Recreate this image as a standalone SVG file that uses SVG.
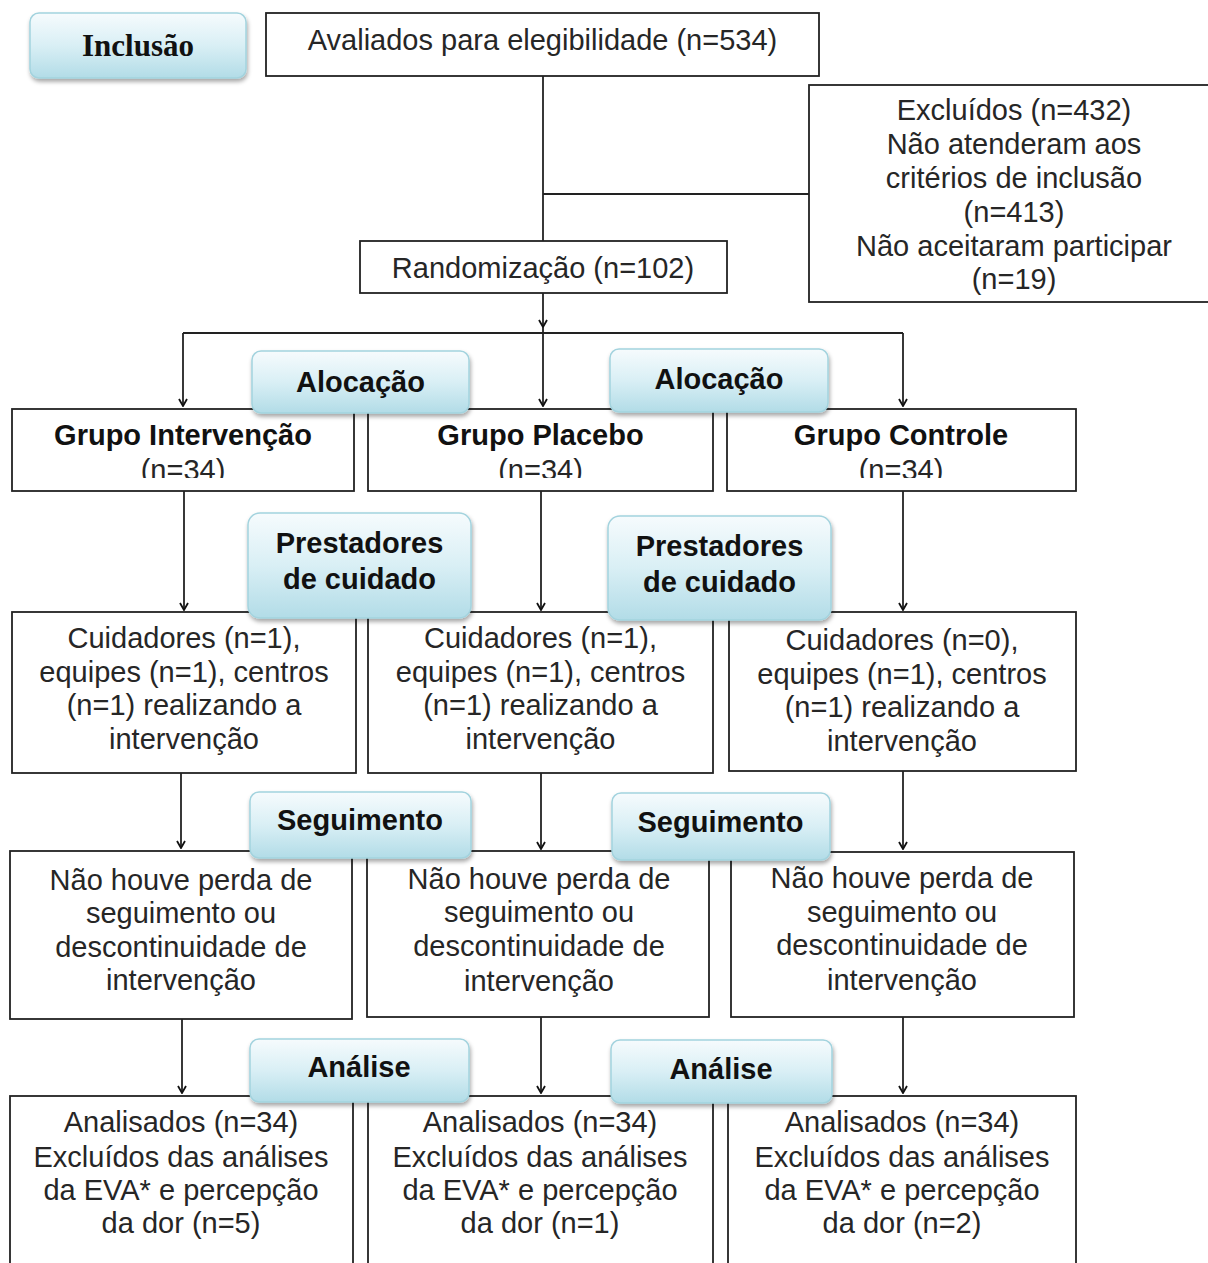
<svg xmlns="http://www.w3.org/2000/svg" width="1208" height="1263" viewBox="0 0 1208 1263">
<defs>
<linearGradient id="lg" x1="0" y1="0" x2="0" y2="1">
<stop offset="0" stop-color="#f6fbfd"/>
<stop offset="0.5" stop-color="#d9eff5"/>
<stop offset="1" stop-color="#b2dce7"/>
</linearGradient>
<filter id="sh" x="-10%" y="-10%" width="120%" height="140%">
<feDropShadow dx="1" dy="3" stdDeviation="2" flood-color="#000" flood-opacity="0.35"/>
</filter>
<marker id="ah" markerUnits="userSpaceOnUse" viewBox="-9 -5 10 10" refX="0" refY="0" markerWidth="10" markerHeight="10" orient="auto">
<path d="M-7,-4 L0,0 L-7,4" fill="none" stroke="#111" stroke-width="1.8"/>
</marker>
<clipPath id="c1"><rect x="12" y="409" width="342" height="69"/></clipPath>
<clipPath id="c2"><rect x="368" y="409" width="345" height="69"/></clipPath>
<clipPath id="c3"><rect x="727" y="409" width="349" height="69"/></clipPath>
</defs>
<style>
.box{fill:#fff;stroke:#222;stroke-width:1.8}
.lab{fill:url(#lg);stroke:#a3d3de;stroke-width:1.5;filter:url(#sh)}
.t{font-family:"Liberation Sans",Arial,sans-serif;font-size:29px;fill:#262626;text-anchor:middle}
.b{font-family:"Liberation Sans",Arial,sans-serif;font-size:29px;font-weight:bold;fill:#111;text-anchor:middle}
.s{font-family:"Liberation Serif","Times New Roman",serif;font-size:31px;font-weight:bold;fill:#111;text-anchor:middle}
.ln{stroke:#222;stroke-width:1.8;fill:none}
.ar{stroke:#222;stroke-width:1.8;fill:none;marker-end:url(#ah)}
</style>
<rect width="1208" height="1263" fill="#fff"/>

<g id="connectors">
<line class="ln" x1="543" y1="76" x2="543" y2="241"/>
<line class="ln" x1="543" y1="194" x2="809" y2="194"/>
<line class="ar" x1="543" y1="293" x2="543" y2="327"/>
<line class="ln" x1="183" y1="333" x2="903" y2="333"/>
<line class="ar" x1="543" y1="327" x2="543" y2="406"/>
<line class="ar" x1="183" y1="333" x2="183" y2="406"/>
<line class="ar" x1="903" y1="333" x2="903" y2="406"/>
<line class="ar" x1="184" y1="491" x2="184" y2="610"/>
<line class="ar" x1="541" y1="491" x2="541" y2="610"/>
<line class="ar" x1="903" y1="491" x2="903" y2="610"/>
<line class="ar" x1="181" y1="773" x2="181" y2="848"/>
<line class="ar" x1="541" y1="773" x2="541" y2="849"/>
<line class="ar" x1="903" y1="771" x2="903" y2="849"/>
<line class="ar" x1="182" y1="1019" x2="182" y2="1093"/>
<line class="ar" x1="541" y1="1017" x2="541" y2="1093"/>
<line class="ar" x1="903" y1="1017" x2="903" y2="1093"/>
</g>

<g id="avaliados">
<rect class="box" x="266" y="13" width="553" height="63"/>
<text class="t" x="542.5" y="50">Avaliados para elegibilidade (n=534)</text>
</g>

<g id="excluidos">
<rect class="box" x="809" y="85" width="410" height="217"/>
<text class="t" x="1014" y="120">Excluídos (n=432)</text>
<text class="t" x="1014" y="154">Não atenderam aos</text>
<text class="t" x="1014" y="188">critérios de inclusão</text>
<text class="t" x="1014" y="222">(n=413)</text>
<text class="t" x="1014" y="256">Não aceitaram participar</text>
<text class="t" x="1014" y="289">(n=19)</text>
</g>

<g id="randomizacao">
<rect class="box" x="360" y="241" width="367" height="52"/>
<text class="t" x="543" y="278">Randomização (n=102)</text>
</g>

<g id="grupo-intervencao">
<rect class="box" x="12" y="409" width="342" height="82"/>
<g clip-path="url(#c1)">
<text class="b" x="183" y="445">Grupo Intervenção</text>
<text class="t" x="183" y="480">(n=34)</text>
</g>
</g>
<g id="grupo-placebo">
<rect class="box" x="368" y="409" width="345" height="82"/>
<g clip-path="url(#c2)">
<text class="b" x="540.5" y="445">Grupo Placebo</text>
<text class="t" x="540.5" y="480">(n=34)</text>
</g>
</g>
<g id="grupo-controle">
<rect class="box" x="727" y="409" width="349" height="82"/>
<g clip-path="url(#c3)">
<text class="b" x="901" y="445">Grupo Controle</text>
<text class="t" x="901" y="480">(n=34)</text>
</g>
</g>

<g id="cuidadores-1">
<rect class="box" x="12" y="612" width="344" height="161"/>
<text class="t" x="184" y="648">Cuidadores (n=1),</text>
<text class="t" x="184" y="682">equipes (n=1), centros</text>
<text class="t" x="184" y="715">(n=1) realizando a</text>
<text class="t" x="184" y="749">intervenção</text>
</g>
<g id="cuidadores-2">
<rect class="box" x="368" y="612" width="345" height="161"/>
<text class="t" x="540.5" y="648">Cuidadores (n=1),</text>
<text class="t" x="540.5" y="682">equipes (n=1), centros</text>
<text class="t" x="540.5" y="715">(n=1) realizando a</text>
<text class="t" x="540.5" y="749">intervenção</text>
</g>
<g id="cuidadores-3">
<rect class="box" x="729" y="612" width="347" height="159"/>
<text class="t" x="902" y="650">Cuidadores (n=0),</text>
<text class="t" x="902" y="684">equipes (n=1), centros</text>
<text class="t" x="902" y="717">(n=1) realizando a</text>
<text class="t" x="902" y="751">intervenção</text>
</g>

<g id="seguimento-1">
<rect class="box" x="10" y="851" width="342" height="168"/>
<text class="t" x="181" y="890">Não houve perda de</text>
<text class="t" x="181" y="923">seguimento ou</text>
<text class="t" x="181" y="957">descontinuidade de</text>
<text class="t" x="181" y="990">intervenção</text>
</g>
<g id="seguimento-2">
<rect class="box" x="367" y="851" width="342" height="166"/>
<text class="t" x="539" y="889">Não houve perda de</text>
<text class="t" x="539" y="922">seguimento ou</text>
<text class="t" x="539" y="956">descontinuidade de</text>
<text class="t" x="539" y="991">intervenção</text>
</g>
<g id="seguimento-3">
<rect class="box" x="731" y="852" width="343" height="165"/>
<text class="t" x="902" y="888">Não houve perda de</text>
<text class="t" x="902" y="922">seguimento ou</text>
<text class="t" x="902" y="955">descontinuidade de</text>
<text class="t" x="902" y="990">intervenção</text>
</g>

<g id="analise-1">
<rect class="box" x="10" y="1096" width="343" height="180"/>
<text class="t" x="181" y="1132">Analisados (n=34)</text>
<text class="t" x="181" y="1167">Excluídos das análises</text>
<text class="t" x="181" y="1200">da EVA* e percepção</text>
<text class="t" x="181" y="1233">da dor (n=5)</text>
</g>
<g id="analise-2">
<rect class="box" x="368" y="1096" width="345" height="180"/>
<text class="t" x="540" y="1132">Analisados (n=34)</text>
<text class="t" x="540" y="1167">Excluídos das análises</text>
<text class="t" x="540" y="1200">da EVA* e percepção</text>
<text class="t" x="540" y="1233">da dor (n=1)</text>
</g>
<g id="analise-3">
<rect class="box" x="728" y="1096" width="348" height="180"/>
<text class="t" x="902" y="1132">Analisados (n=34)</text>
<text class="t" x="902" y="1167">Excluídos das análises</text>
<text class="t" x="902" y="1200">da EVA* e percepção</text>
<text class="t" x="902" y="1233">da dor (n=2)</text>
</g>

<g id="label-inclusao">
<rect class="lab" x="30" y="13" width="216" height="65" rx="9"/>
<text class="s" x="138" y="56">Inclusão</text>
</g>
<g id="label-alocacao-1">
<rect class="lab" x="252" y="351" width="217" height="62" rx="9"/>
<text class="b" x="360.5" y="392">Alocação</text>
</g>
<g id="label-alocacao-2">
<rect class="lab" x="610" y="349" width="218" height="63" rx="9"/>
<text class="b" x="719" y="389">Alocação</text>
</g>
<g id="label-prestadores-1">
<rect class="lab" x="248" y="513" width="223" height="105" rx="12"/>
<text class="b" x="359.5" y="553">Prestadores</text>
<text class="b" x="359.5" y="589">de cuidado</text>
</g>
<g id="label-prestadores-2">
<rect class="lab" x="608" y="516" width="223" height="104" rx="12"/>
<text class="b" x="719.5" y="556">Prestadores</text>
<text class="b" x="719.5" y="592">de cuidado</text>
</g>
<g id="label-seguimento-1">
<rect class="lab" x="250" y="792" width="221" height="66" rx="9"/>
<text class="b" x="360" y="830">Seguimento</text>
</g>
<g id="label-seguimento-2">
<rect class="lab" x="612" y="793" width="218" height="67" rx="9"/>
<text class="b" x="720.5" y="832">Seguimento</text>
</g>
<g id="label-analise-1">
<rect class="lab" x="250" y="1039" width="219" height="63" rx="9"/>
<text class="b" x="359" y="1077">Análise</text>
</g>
<g id="label-analise-2">
<rect class="lab" x="611" y="1040" width="221" height="63" rx="9"/>
<text class="b" x="721" y="1079">Análise</text>
</g>
</svg>
